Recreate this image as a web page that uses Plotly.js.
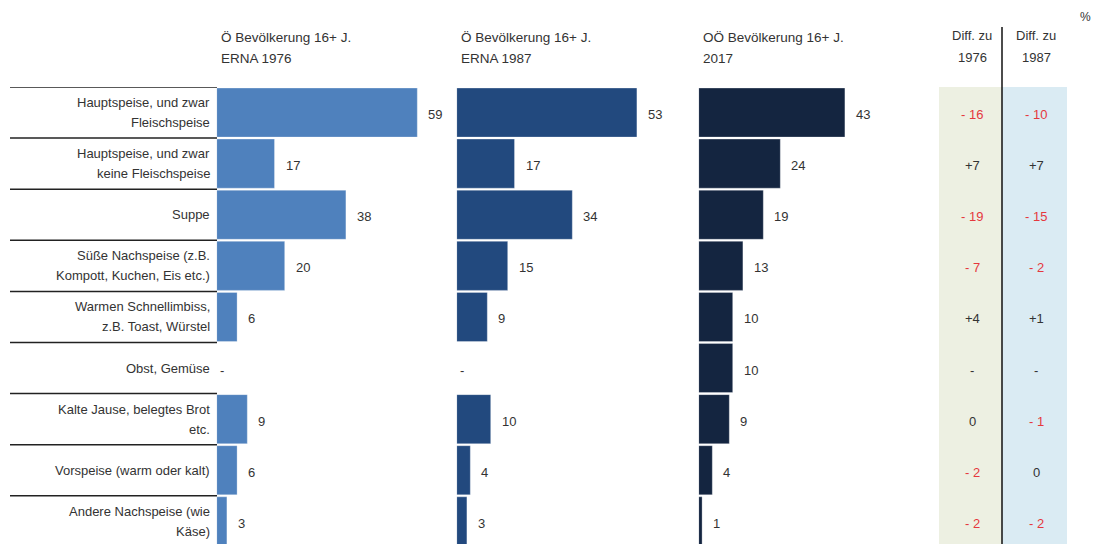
<!DOCTYPE html>
<html>
<head>
<meta charset="utf-8">
<script src="https://cdn.plot.ly/plotly-3.0.1.min.js"></script>
<style>html,body{margin:0;padding:0;background:#fff;}#chart{width:1094px;height:544px;}</style>
</head>
<body>
<div id="chart"></div>
<script>
// ---- data ----
const categories = [
  "Hauptspeise, und zwar<br>Fleischspeise",
  "Hauptspeise, und zwar<br>keine Fleischspeise",
  "Suppe",
  "Süße Nachspeise (z.B.<br>Kompott, Kuchen, Eis etc.)",
  "Warmen Schnellimbiss,<br>z.B. Toast, Würstel",
  "Obst, Gemüse",
  "Kalte Jause, belegtes Brot<br>etc.",
  "Vorspeise (warm oder kalt)",
  "Andere Nachspeise (wie<br>Käse)"
];
const erna1976 = [59, 17, 38, 20, 6, null, 9, 6, 3];
const erna1987 = [53, 17, 34, 15, 9, null, 10, 4, 3];
const ooe2017  = [43, 24, 19, 13, 10, 10, 9, 4, 1];
const diff1976 = [-16, 7, -19, -7, 4, null, 0, -2, -2];
const diff1987 = [-10, 7, -15, -2, 1, null, -1, 0, -2];
const seriesTitles = [
  "Ö Bevölkerung 16+ J.<br>ERNA 1976",
  "Ö Bevölkerung 16+ J.<br>ERNA 1987",
  "OÖ Bevölkerung 16+ J.<br>2017"
];
const diffTitles = ["Diff. zu<br>1976", "Diff. zu<br>1987"];
const unitLabel = "%";

// ---- layout helpers ----
const W = 1094, H = 544, TOP = 87;
const plotH = H - TOP;
const px = v => v / W;
const py = v => (H - v) / plotH;
const colors = ["#4f81bd", "#22497e", "#142540"];
const colStart = [216.7, 456.7, 698.7];
const colWidth = 231.2;
const xMax = 68;
const font = "Liberation Sans, Arial, sans-serif";
const textColor = "#333333";
const red = "#e5383d";
const rowIdx = categories.map((_, i) => i);

const series = [erna1976, erna1987, ooe2017];
const axNames = ["x", "x2", "x3"];
const traces = series.map((vals, k) => ({
  type: "bar", orientation: "h",
  x: vals, y: rowIdx,
  xaxis: axNames[k], yaxis: "y",
  marker: {color: colors[k], line: {color: "rgba(255,255,255,0.5)", width: 0.6}},
  hoverinfo: "skip", showlegend: false
}));

const annotations = [];
// category labels
categories.forEach((c, i) => {
  const lines = c.split("<br>");
  const sp = 20;
  lines.forEach((ln, j) => {
    annotations.push({
      xref: "paper", yref: "y", x: px(212), y: i,
      yshift: (lines.length - 1) * sp / 2 - j * sp,
      text: ln, showarrow: false, xanchor: "right", yanchor: "middle",
      font: {family: font, size: 13, color: textColor}
    });
  });
});
// value labels
series.forEach((vals, k) => {
  vals.forEach((v, i) => {
    annotations.push({
      xref: axNames[k], yref: "y", x: v == null ? 0 : v, y: i,
      xshift: v == null ? 1 : 9, yshift: -2,
      text: v == null ? "-" : String(v), showarrow: false,
      xanchor: "left", yanchor: "middle",
      font: {family: font, size: 13, color: textColor}
    });
  });
});
// series headers
seriesTitles.forEach((t, k) => {
  t.split("<br>").forEach((ln, j) => {
    annotations.push({
      xref: "paper", yref: "paper", x: px(colStart[k] + 2), y: py(37 + j * 21),
      text: ln, showarrow: false, xanchor: "left", yanchor: "middle",
      font: {family: font, size: 13.5, color: textColor}
    });
  });
});
// diff columns
const diffCenters = [972, 1036];
const fmt = v => v == null ? "-" : (v < 0 ? "- " + Math.abs(v) : (v > 0 ? "+" + v : "0"));
[diff1976, diff1987].forEach((vals, k) => {
  diffTitles[k].split("<br>").forEach((ln, j) => {
    annotations.push({
      xref: "paper", yref: "paper", x: px(diffCenters[k]), y: py(36 + j * 21),
      text: ln, showarrow: false, xanchor: "center", yanchor: "middle",
      font: {family: font, size: 13, color: textColor}
    });
  });
  vals.forEach((v, i) => {
    annotations.push({
      xref: "paper", yref: "y", x: px(diffCenters[k]), y: i, yshift: -2,
      text: fmt(v), showarrow: false, xanchor: "center", yanchor: "middle",
      font: {family: font, size: 13, color: (v != null && v < 0) ? red : textColor}
    });
  });
});
annotations.push({
  xref: "paper", yref: "paper", x: px(1085), y: py(17),
  text: unitLabel, showarrow: false, xanchor: "center", yanchor: "middle",
  font: {family: font, size: 12, color: textColor}
});

const shapes = [
  {type: "rect", xref: "paper", yref: "paper", x0: px(939), x1: px(1002), y0: 0, y1: 1,
   fillcolor: "#edf0e2", line: {width: 0}, layer: "below"},
  {type: "rect", xref: "paper", yref: "paper", x0: px(1002), x1: px(1067), y0: 0, y1: 1,
   fillcolor: "#daebf3", line: {width: 0}, layer: "below"},
  {type: "line", xref: "paper", yref: "paper", x0: px(1002), x1: px(1002), y0: 0, y1: py(27),
   line: {color: "#111111", width: 1.5}}
];
rowIdx.forEach(i => {
  shapes.push({type: "line", xref: "paper", yref: "y", x0: px(10), x1: px(217), y0: i - 0.5, y1: i - 0.5,
    line: {color: "#222222", width: 1.5}});
});

const xax = k => ({
  domain: [px(colStart[k]), px(colStart[k] + colWidth)],
  range: [0, xMax], visible: false, fixedrange: true, anchor: "y"
});

const layout = {
  width: W, height: H,
  margin: {l: 0, r: 0, t: TOP, b: 0, pad: 0},
  paper_bgcolor: "#ffffff", plot_bgcolor: "rgba(0,0,0,0)",
  bargap: 0.04,
  xaxis: xax(0), xaxis2: xax(1), xaxis3: xax(2),
  yaxis: {range: [8.443, -0.5], visible: false, fixedrange: true},
  annotations: annotations, shapes: shapes,
  showlegend: false
};

Plotly.newPlot("chart", traces, layout, {displayModeBar: false, staticPlot: true});
</script>
</body>
</html>
